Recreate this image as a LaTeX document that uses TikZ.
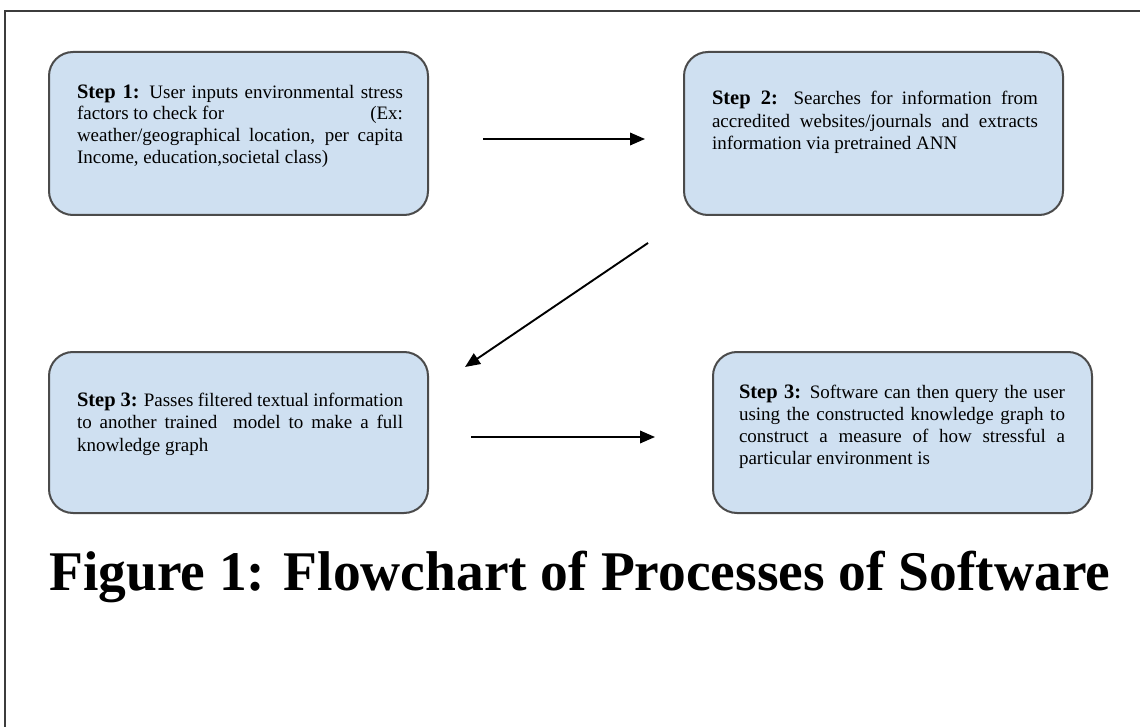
\documentclass[tikz,border=0pt]{standalone}
\usepackage{fontspec}
\usepackage{graphicx}
\setmainfont{Liberation Serif}
\usetikzlibrary{arrows.meta}

\definecolor{boxfill}{RGB}{207,224,241}
\definecolor{boxline}{RGB}{75,75,75}
\definecolor{frameline}{RGB}{60,60,60}

% body text of a step box, with its own line spacing
\newcommand{\stepbody}[1]{\fontsize{19}{#1}\selectfont}
% bold "Step n:" lead-in
\newcommand{\steplabel}[1]{{\fontsize{20.5}{22}\selectfont\bfseries #1}}
% a justified line and a closing (ragged) line
\newcommand{\fullline}[1]{\hbox to \hsize{#1}}
\newcommand{\lastline}[1]{\hbox{#1}}

\tikzset{
  stepbox/.style={draw=boxline, line width=2pt, fill=boxfill,
    rounded corners=24pt, inner sep=0pt, minimum width=379pt},
  steptext/.style={anchor=base west, inner sep=0pt, outer sep=0pt},
  flow/.style={line width=1.9pt, -{Triangle[length=15pt,width=12.5pt]}},
  frame/.style={draw=frameline, line width=2pt}
}

\begin{document}
\begin{tikzpicture}[x=1pt, y=-1pt]
\useasboundingbox (0,0) rectangle (1140,727);

% page frame (top and left edges)
\coordinate (fr1) at (1140,11);
\coordinate (fr2) at (5,11);
\coordinate (fr3) at (5,727);
\draw[frame] (fr1) -- (fr2) -- (fr3);

% process boxes
\node[stepbox, minimum height=163pt] (b1) at (238.5,133.5) {};
\node[stepbox, minimum height=163pt] (b2) at (873.5,133.5) {};
\node[stepbox, minimum height=161pt] (b3) at (238.5,432.5) {};
\node[stepbox, minimum height=161pt] (b4) at (902.5,432.5) {};

% box texts
\node[steptext] (t1) at (77,98.3) {\vtop{\hsize=326pt\stepbody{21.7}\lineskiplimit=-50pt
  \fullline{\steplabel{Step 1:} User inputs environmental stress}
  \fullline{factors to check for\hfill(Ex:}
  \fullline{weather/geographical location, per capita}
  \lastline{Income, education,societal class)}}};

\node[steptext] (t2) at (712,105) {\vtop{\hsize=326pt\stepbody{22.5}\lineskiplimit=-50pt
  \fullline{\steplabel{Step 2:} Searches for information from}
  \fullline{accredited websites/journals and extracts}
  \lastline{information via pretrained ANN}}};

\node[steptext] (t3) at (77,406) {\vtop{\hsize=326pt\stepbody{22.5}\lineskiplimit=-50pt
  \fullline{\steplabel{Step 3:} Passes filtered textual information}
  \fullline{to another trained \ model to make a full}
  \lastline{knowledge graph}}};

\node[steptext] (t4) at (739,398.3) {\vtop{\hsize=326pt\stepbody{22}\lineskiplimit=-50pt
  \fullline{\steplabel{Step 3:} Software can then query the user}
  \fullline{using the constructed knowledge graph to}
  \fullline{construct a measure of how stressful a}
  \lastline{particular environment is}}};

% connectors
\coordinate (a1s) at (483,139);
\coordinate (a1e) at (645,139);
\coordinate (a2s) at (648,243);
\coordinate (a2e) at (465,367);
\coordinate (a3s) at (471,437);
\coordinate (a3e) at (655,437);
\draw[flow] (a1s) -- (a1e);
\draw[flow] (a2s) -- (a2e);
\draw[flow] (a3s) -- (a3e);

% caption
\node[anchor=base west, inner sep=0pt] (cap) at (49,590)
  {\resizebox{1061pt}{\height}{\fontsize{56}{60}\selectfont\bfseries Figure 1: Flowchart of Processes of Software}};
\end{tikzpicture}
\end{document}
